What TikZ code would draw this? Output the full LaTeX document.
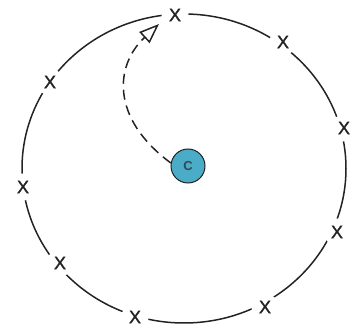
\documentclass[tikz,border=0pt]{standalone}
\usepackage{fontspec}
\setmainfont{Liberation Sans}
\newfontfamily\markfont[FakeBold=1.2]{Liberation Sans}
\usetikzlibrary{arrows.meta}
\definecolor{ballblue}{RGB}{74,172,198}
\definecolor{inkgray}{RGB}{35,35,35}

\begin{document}
\begin{tikzpicture}[x=1pt,y=1pt,
  xmark/.style={circle, fill=white, minimum size=27pt, inner sep=0pt, text=inkgray,
    font=\markfont\fontsize{18}{18}\selectfont},
  ball/.style={circle, draw=inkgray, line width=1pt, fill=ballblue,
    minimum size=34pt, inner sep=0pt, text=inkgray!70!ballblue,
    font=\bfseries\fontsize{13}{13}\selectfont},
  rim/.style={draw=inkgray, line width=1.5pt}]
\useasboundingbox (0,0) rectangle (351,332);
% the ring
\draw[rim] (184,163.5) ellipse[x radius=162, y radius=154.5];
\node[xmark] (X1) at (175,317) {X};
\node[xmark] (X2) at (283,290) {X};
\node[xmark] (X3) at (344,204) {X};
\node[xmark] (X4) at (337,100) {X};
\node[xmark] (X5) at (265,25) {X};
\node[xmark] (X6) at (135,15) {X};
\node[xmark] (X7) at (60,69) {X};
\node[xmark] (X8) at (23,145) {X};
\node[xmark] (X9) at (50,250) {X};
\node[ball] (C) at (188,166) {C};
\coordinate (tip) at (159,308);
\draw[rim, dash pattern=on 10pt off 6pt, -{Triangle[open, length=20pt, width=15pt]}]
  (C.170) .. controls (110,214) and (115,267) .. (tip);
\end{tikzpicture}
\end{document}
